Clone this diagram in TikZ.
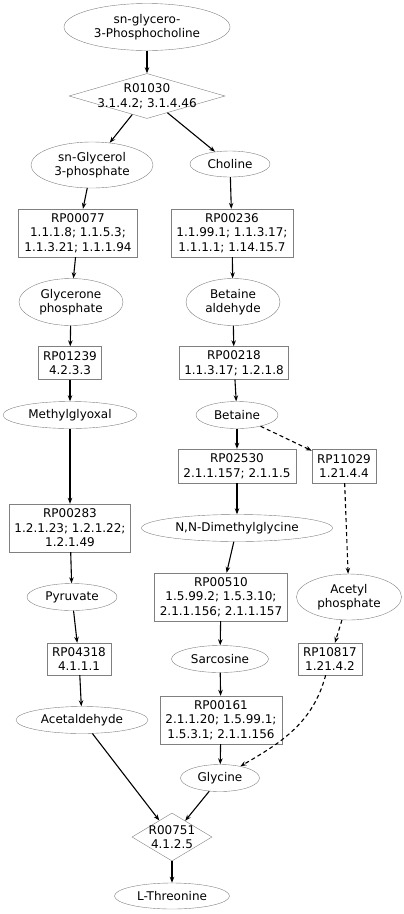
\documentclass[tikz,border=0pt]{standalone}
\usepackage{fontspec}
\setmainfont{DejaVu Sans}
\usetikzlibrary{shapes.geometric,arrows.meta}
\tikzset{
	cpd/.style={ellipse,draw=gray,inner sep=0pt,align=center},
	rpair/.style={rectangle,draw=gray,inner sep=1pt,align=center},
	rxn/.style={diamond,draw=gray,aspect=3,inner sep=-12pt,align=center},
	flow/.style={line width=1.1pt,-{Stealth[length=6pt,width=4.5pt]}},
	flowdash/.style={flow,dash pattern=on 4pt off 3pt},
}
\begin{document}
\begin{tikzpicture}[x=1pt,y=1pt,font=\fontsize{12}{14.5}\selectfont]
		\useasboundingbox (0,0) rectangle (404,-914);
		% compounds
		\node[cpd,minimum width=166,minimum height=47] (gpc) at (147,-27) {sn-glycero-\\3-Phosphocholine};
		\node[cpd,minimum width=122,minimum height=46] (g3p) at (92,-165) {sn-Glycerol\\3-phosphate};
		\node[cpd,minimum width=80,minimum height=26] (choline) at (230,-164) {Choline};
		\node[cpd,minimum width=104,minimum height=47] (dhap) at (71,-302) {Glycerone\\phosphate};
		\node[cpd,minimum width=94,minimum height=47] (betald) at (233,-302) {Betaine\\aldehyde};
		\node[cpd,minimum width=134,minimum height=27] (mgo) at (70,-415) {Methylglyoxal};
		\node[cpd,minimum width=82,minimum height=27] (betaine) at (237,-415) {Betaine};
		\node[cpd,minimum width=191,minimum height=27] (dmg) at (237,-528) {N,N-Dimethylglycine};
		\node[cpd,minimum width=90,minimum height=27] (pyr) at (72,-597) {Pyruvate};
		\node[cpd,minimum width=105,minimum height=46] (acp) at (349,-597) {Acetyl\\phosphate};
		\node[cpd,minimum width=97,minimum height=27] (sarc) at (220,-659) {Sarcosine};
		\node[cpd,minimum width=132,minimum height=27] (acald) at (82,-720) {Acetaldehyde};
		\node[cpd,minimum width=79,minimum height=27] (gly) at (220,-778) {Glycine};
		\node[cpd,minimum width=115,minimum height=26] (thr) at (172,-896) {L-Threonine};
		% reaction pairs
		\node[rpair,minimum width=119,minimum height=48] (rp00077) at (78,-233) {RP00077\\1.1.1.8; 1.1.5.3;\\1.1.3.21; 1.1.1.94};
		\node[rpair,minimum width=122,minimum height=48] (rp00236) at (232,-233) {RP00236\\1.1.99.1; 1.1.3.17;\\1.1.1.1; 1.14.15.7};
		\node[rpair,minimum width=63,minimum height=33] (rp01239) at (70,-363) {RP01239\\4.2.3.3};
		\node[rpair,minimum width=109,minimum height=33] (rp00218) at (234,-363) {RP00218\\1.1.3.17; 1.2.1.8};
		\node[rpair,minimum width=118,minimum height=34] (rp02530) at (237,-466) {RP02530\\2.1.1.157; 2.1.1.5};
		\node[rpair,minimum width=64,minimum height=34] (rp11029) at (344,-466) {RP11029\\1.21.4.4};
		\node[rpair,minimum width=121,minimum height=48] (rp00283) at (70,-528) {RP00283\\1.2.1.23; 1.2.1.22;\\1.2.1.49};
		\node[rpair,minimum width=133,minimum height=48] (rp00510) at (221,-597) {RP00510\\1.5.99.2; 1.5.3.10;\\2.1.1.156; 2.1.1.157};
		\node[rpair,minimum width=64,minimum height=32] (rp04318) at (79,-659) {RP04318\\4.1.1.1};
		\node[rpair,minimum width=64,minimum height=32] (rp10817) at (330,-659) {RP10817\\1.21.4.2};
		\node[rpair,minimum width=122,minimum height=48] (rp00161) at (221,-720) {RP00161\\2.1.1.20; 1.5.99.1;\\1.5.3.1; 2.1.1.156};
		% reactions
		\node[rxn,minimum width=156,minimum height=45] (r01030) at (147,-96) {R01030\\3.1.4.2; 3.1.4.46};
		\node[rxn,minimum width=80,minimum height=48] (r00751) at (172,-837) {R00751\\4.1.2.5};
		% edges
		\draw[flow] (gpc) -- (r01030);
		\draw[flow] (r01030) -- (g3p);
		\draw[flow] (r01030) -- (choline);
		\draw[flow] (g3p) -- (rp00077);
		\draw[flow] (choline) -- (rp00236);
		\draw[flow] (rp00077) -- (dhap);
		\draw[flow] (rp00236) -- (betald);
		\draw[flow] (dhap) -- (rp01239);
		\draw[flow] (betald) -- (rp00218);
		\draw[flow] (rp01239) -- (mgo);
		\draw[flow] (rp00218) -- (betaine);
		\draw[flow] (mgo) -- (rp00283);
		\draw[flow] (betaine) -- (rp02530);
		\draw[flowdash] (betaine) -- (rp11029);
		\draw[flow] (rp00283) -- (pyr);
		\draw[flow] (rp02530) -- (dmg);
		\draw[flowdash] (rp11029) -- (acp);
		\draw[flow] (dmg) -- (rp00510);
		\draw[flow] (pyr) -- (rp04318);
		\draw[flow] (rp00510) -- (sarc);
		\draw[flowdash] (acp) -- (rp10817);
		\draw[flow] (rp04318) -- (acald);
		\draw[flow] (sarc) -- (rp00161);
		\draw[flowdash] (rp10817) to[out=-105,in=30] (gly);
		\draw[flow] (acald) -- (r00751);
		\draw[flow] (rp00161) -- (gly);
		\draw[flow] (gly) -- (r00751);
		\draw[flow] (r00751) -- (thr);
	    \end{tikzpicture}
\end{document}
